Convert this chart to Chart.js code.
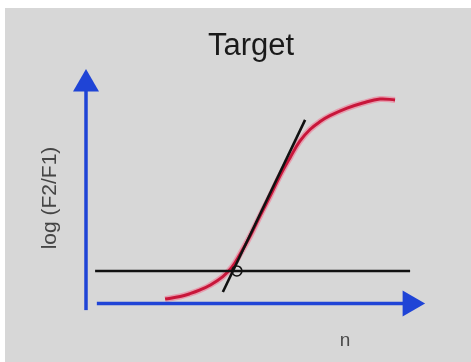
<!DOCTYPE html>
<html lang="en">
<head>
  <meta charset="UTF-8">
  <title>Target</title>
  <script src="https://cdn.jsdelivr.net/npm/chart.js"></script>
  <style>
    html, body {
      margin: 0;
      padding: 0;
      background: #ffffff;
    }
    .chart-box {
      position: absolute;
      left: 5px;
      top: 8px;
      width: 466px;
      height: 354px;
      background: #d7d7d7;
    }
  </style>
</head>
<body>
  <div class="chart-box">
    <canvas id="targetChart"></canvas>
  </div>

  <script>
    // Amplification curve: cycle number vs log(F2/F1)
    const curveN   = [2.26, 2.69, 2.97, 3.26, 3.54, 3.91, 4.17, 4.40, 4.69, 4.97, 5.26, 5.54, 5.83, 6.11, 6.40, 6.69, 6.97, 7.46, 7.91, 8.40, 8.83];
    const curveLog = [0.19, 0.30, 0.42, 0.58, 0.78, 1.15, 1.55, 2.10, 2.88, 3.73, 4.58, 5.44, 6.22, 6.92, 7.42, 7.76, 8.01, 8.33, 8.55, 8.72, 8.68];

    // Threshold line and tangent through the steep part
    const thresholdN = [0.26, 9.26];
    const thresholdLog = [1.39, 1.39];
    const tangentN = [3.91, 6.26];
    const tangentLog = [0.49, 7.83];

    // Crossing point
    const crossN = [4.31];
    const crossLog = [1.39];

    // Axis arrows
    const yAxisN = [0, 0];
    const yAxisLog = [-0.28, 9.36];
    const xAxisN = [0.31, 9.26];
    const xAxisLog = [0, 0];

    const pts = (xs, ys) => xs.map((x, i) => ({ x: x, y: ys[i] }));

    const blue = '#1f44d6';

    // x-axis label under the horizontal arrow
    const nLabel = {
      id: 'nLabel',
      afterDraw(chart) {
        const ctx = chart.ctx;
        const x = chart.scales.x.getPixelForValue(7.4);
        ctx.save();
        ctx.font = '19px "Liberation Sans", Arial, sans-serif';
        ctx.fillStyle = '#4a4a4a';
        ctx.textAlign = 'center';
        ctx.textBaseline = 'middle';
        ctx.fillText('n', x, chart.chartArea.bottom + 14);
        ctx.restore();
      }
    };

    new Chart(document.getElementById('targetChart'), {
      type: 'scatter',
      data: {
        datasets: [
          { data: pts([yAxisN[1]], [yAxisLog[1]]), pointStyle: 'triangle', pointRadius: 15, rotation: 0,
            backgroundColor: blue, borderWidth: 0 },
          { data: pts([xAxisN[1]], [xAxisLog[1]]), pointStyle: 'triangle', pointRadius: 15, rotation: 90,
            backgroundColor: blue, borderWidth: 0 },
          { data: pts(yAxisN, yAxisLog), showLine: true, borderColor: blue, borderWidth: 3.5, pointRadius: 0 },
          { data: pts(xAxisN, xAxisLog), showLine: true, borderColor: blue, borderWidth: 3.5, pointRadius: 0 },
          { data: pts(crossN, crossLog), pointStyle: 'circle', pointRadius: 5,
            backgroundColor: 'rgba(0,0,0,0)', borderColor: '#111', borderWidth: 1.6 },
          { data: pts(tangentN, tangentLog), showLine: true, borderColor: '#111', borderWidth: 2.6, pointRadius: 0 },
          { data: pts(thresholdN, thresholdLog), showLine: true, borderColor: '#111', borderWidth: 2.6, pointRadius: 0 },
          { data: pts(curveN, curveLog), showLine: true, borderColor: '#c8163a', borderWidth: 3,
            pointRadius: 0, tension: 0.4 },
          { data: pts(curveN, curveLog), showLine: true, borderColor: 'rgba(240,110,140,0.55)', borderWidth: 6,
            pointRadius: 0, tension: 0.4 }
        ]
      },
      options: {
        responsive: true,
        maintainAspectRatio: false,
        animation: false,
        clip: false,
        layout: {
          autoPadding: false,
          padding: { left: 26, right: 0, top: 0, bottom: 35 }
        },
        plugins: {
          legend: { display: false },
          tooltip: { enabled: false },
          title: {
            display: true,
            text: 'Target',
            color: '#1a1a1a',
            font: { family: '"Liberation Sans", Arial, sans-serif', size: 31, weight: 'normal', lineHeight: 1.2 },
            padding: { top: 20, bottom: 3.8 }
          }
        },
        scales: {
          x: {
            display: false,
            min: 0,
            max: 11
          },
          y: {
            min: -1,
            max: 10,
            grid: { display: false, drawTicks: false },
            border: { display: false },
            ticks: { display: false },
            title: {
              display: true,
              text: 'log (F2/F1)',
              color: '#454545',
              font: { family: '"Liberation Sans", Arial, sans-serif', size: 21, lineHeight: 1.2 },
              padding: { top: 6.5, bottom: 23.3 }
            }
          }
        }
      },
      plugins: [nLabel]
    });
  </script>
</body>
</html>
